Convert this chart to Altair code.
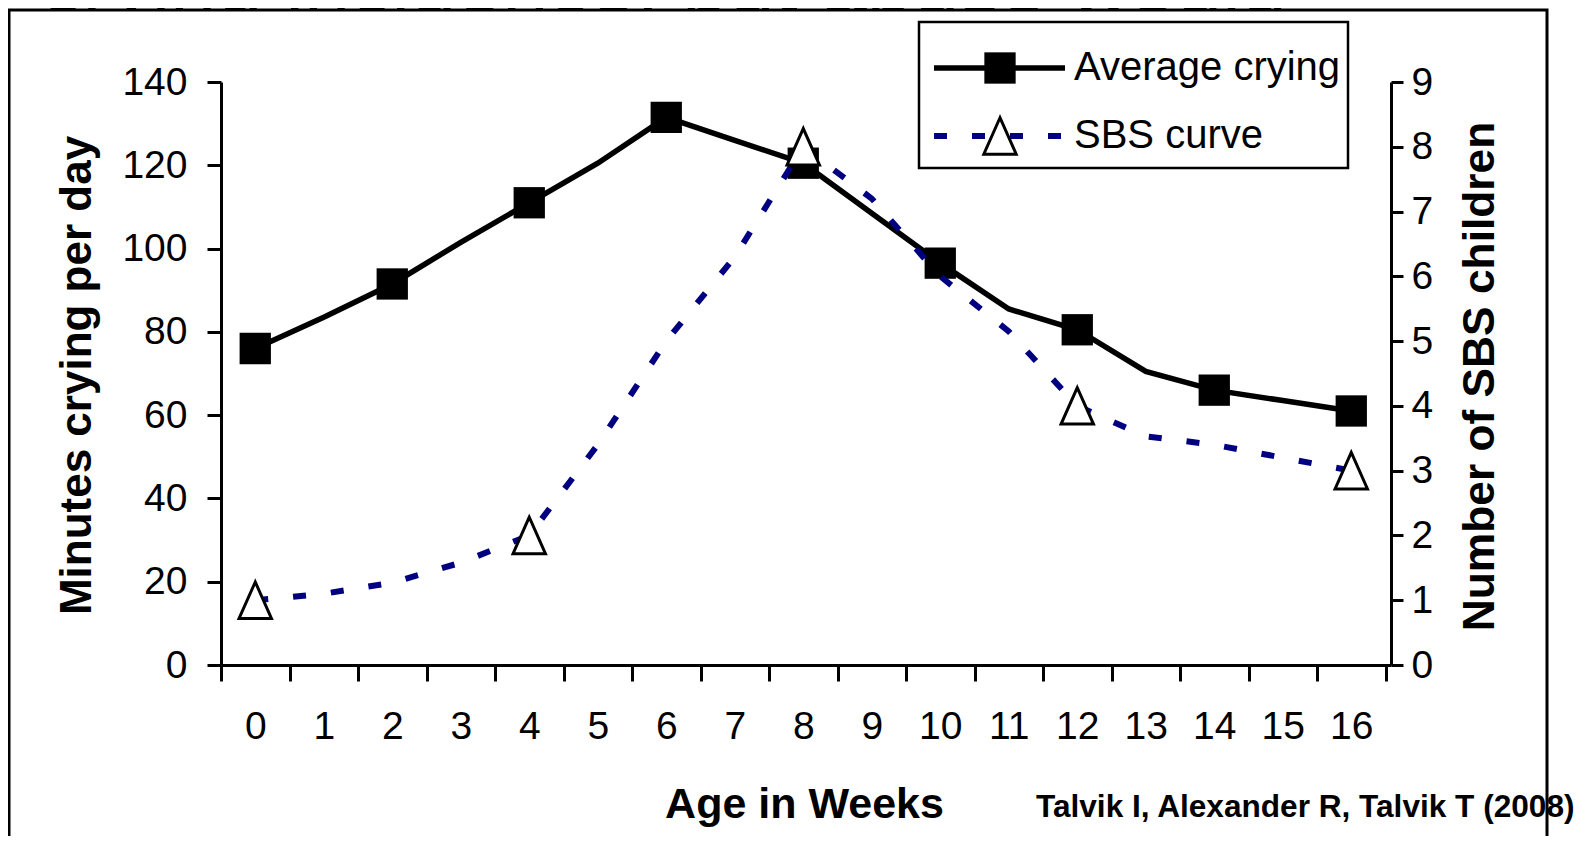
import altair as alt
import pandas as pd

# ---- data ----
weeks = [str(w) for w in range(17)]
crying = [76, 83.5, 91.5, 101.5, 111, 120.5, 131.5, 126, 120.5, 108.5, 96.5, 85.5, 80.5, 70.5, 66, 63.5, 61]
sbs = [1.0, 1.1, 1.27, 1.58, 2.0, 3.4, 5.0, 6.3, 8.0, 7.2, 6.0, 5.15, 4.0, 3.53, 3.4, 3.2, 3.0]
crying_marker_weeks = ["0", "2", "4", "6", "8", "10", "12", "14", "16"]
sbs_marker_weeks = ["0", "4", "8", "12", "16"]
left_ticks = [0, 20, 40, 60, 80, 100, 120, 140]
right_ticks = [0, 1, 2, 3, 4, 5, 6, 7, 8, 9]

FONT = "Liberation Sans"
W, H = 1170, 583

df = pd.DataFrame({"week": weeks, "crying": crying, "sbs": sbs})
df_cm = df[df["week"].isin(crying_marker_weeks)]
df_sm = df[df["week"].isin(sbs_marker_weeks)]
one = pd.DataFrame({"k": [0]})

tri_path = "M0,-1L-0.889,1L0.889,1Z"
common_axis = dict(
    zindex=2, domainColor="black", tickColor="black", labelColor="black", titleColor="black",
    labelFont=FONT, titleFont=FONT, grid=False, tickWidth=3, domainWidth=3,
    titleFontWeight="bold", titleBaseline="middle", titleAlign="center",
)

xenc = alt.X(
    "week:O",
    sort=weeks,
    scale=alt.Scale(type="band", paddingInner=0, paddingOuter=0.04, align=0),
    axis=alt.Axis(
        title="Age in Weeks", labelAngle=0, tickBand="extent",
        tickSize=16, labelPadding=26, labelFontSize=39, titleFontSize=43,
        titleX=583, titleY=139, **common_axis,
    ),
)

yl = alt.Y(
    "crying:Q",
    scale=alt.Scale(domain=[0, 140], nice=False),
    axis=alt.Axis(
        orient="left", values=left_ticks, title="Minutes crying per day",
        tickSize=14, labelPadding=20, labelFontSize=39, titleFontSize=44,
        titleX=-144, titleY=293, titleAngle=270, **common_axis,
    ),
)
yr = alt.Y(
    "sbs:Q",
    scale=alt.Scale(domain=[0, 9], nice=False),
    axis=alt.Axis(
        orient="right", values=right_ticks, title="Number of SBS children",
        tickSize=12, labelPadding=8, labelFontSize=39, titleFontSize=44.3,
        titleX=89, titleY=294, titleAngle=270, **common_axis,
    ),
)

cry_line = alt.Chart(df).mark_line(color="black", strokeWidth=5.5).encode(x=xenc, y=yl)
cry_pts = alt.Chart(df_cm).mark_square(size=980, color="black", opacity=1).encode(x=xenc, y=yl)
cry_group = alt.layer(cry_line, cry_pts)

sbs_line = alt.Chart(df).mark_line(color="#000080", strokeWidth=6, strokeDash=[13, 25]).encode(x=xenc, y=yr)
sbs_pts = alt.Chart(df_sm).mark_point(
    shape=tri_path, size=1330, filled=True, fill="white", stroke="black", strokeWidth=3, opacity=1
).encode(x=xenc, y=yr)
sbs_group = alt.layer(sbs_line, sbs_pts)

# ---- decorations ----
bg_title = alt.Chart(one).mark_text(
    text="crying incidence, but abuse would", align="left", baseline="alphabetic",
    fontSize=83, font=FONT, color="black",
).encode(x=alt.value(-180), y=alt.value(-70))

frame = alt.Chart(one).mark_rect(fill="white", stroke="black", strokeWidth=3).encode(
    x=alt.value(-212), x2=alt.value(1326), y=alt.value(-72), y2=alt.value(900)
)

leg_box = alt.Chart(one).mark_rect(fill="white", stroke="black", strokeWidth=2.5).encode(
    x=alt.value(698), x2=alt.value(1127), y=alt.value(-60), y2=alt.value(86)
)
leg_l1 = alt.Chart(one).mark_rule(color="black", strokeWidth=5.5).encode(
    x=alt.value(713), x2=alt.value(844), y=alt.value(-14)
)
leg_s1 = alt.Chart(one).mark_point(shape="square", size=980, filled=True, color="black", opacity=1).encode(
    x=alt.value(779), y=alt.value(-14)
)
leg_t1 = alt.Chart(one).mark_text(text="Average crying", align="left", baseline="middle",
                                  fontSize=40, font=FONT, color="black").encode(
    x=alt.value(853), y=alt.value(-14)
)
leg_l2 = alt.Chart(one).mark_rule(color="#000080", strokeWidth=6, strokeDash=[13, 25]).encode(
    x=alt.value(713), x2=alt.value(844), y=alt.value(54)
)
leg_s2 = alt.Chart(one).mark_point(shape=tri_path, size=1330, filled=True, fill="white",
                                   stroke="black", strokeWidth=3, opacity=1).encode(
    x=alt.value(779), y=alt.value(54)
)
leg_t2 = alt.Chart(one).mark_text(text="SBS curve", align="left", baseline="middle",
                                  fontSize=40, font=FONT, color="black").encode(
    x=alt.value(853), y=alt.value(54)
)

source = alt.Chart(one).mark_text(
    text="Talvik I, Alexander R, Talvik T (2008)", align="left", baseline="middle",
    fontSize=31.6, fontWeight="bold", font=FONT, color="black",
).encode(x=alt.value(815), y=alt.value(726))

chart = alt.layer(
    bg_title, frame, leg_box, leg_l1, leg_s1, leg_t1, leg_l2, leg_s2, leg_t2,
    cry_group, sbs_group, source,
).resolve_scale(y="independent").properties(
    width=W, height=H,
    autosize=alt.AutoSizeParams(type="none"),
    padding={"left": 213, "top": 74, "right": 190, "bottom": 171},
).configure_view(strokeWidth=0)

chart.save("out.html", embed_options={"renderer": "svg", "actions": False})
